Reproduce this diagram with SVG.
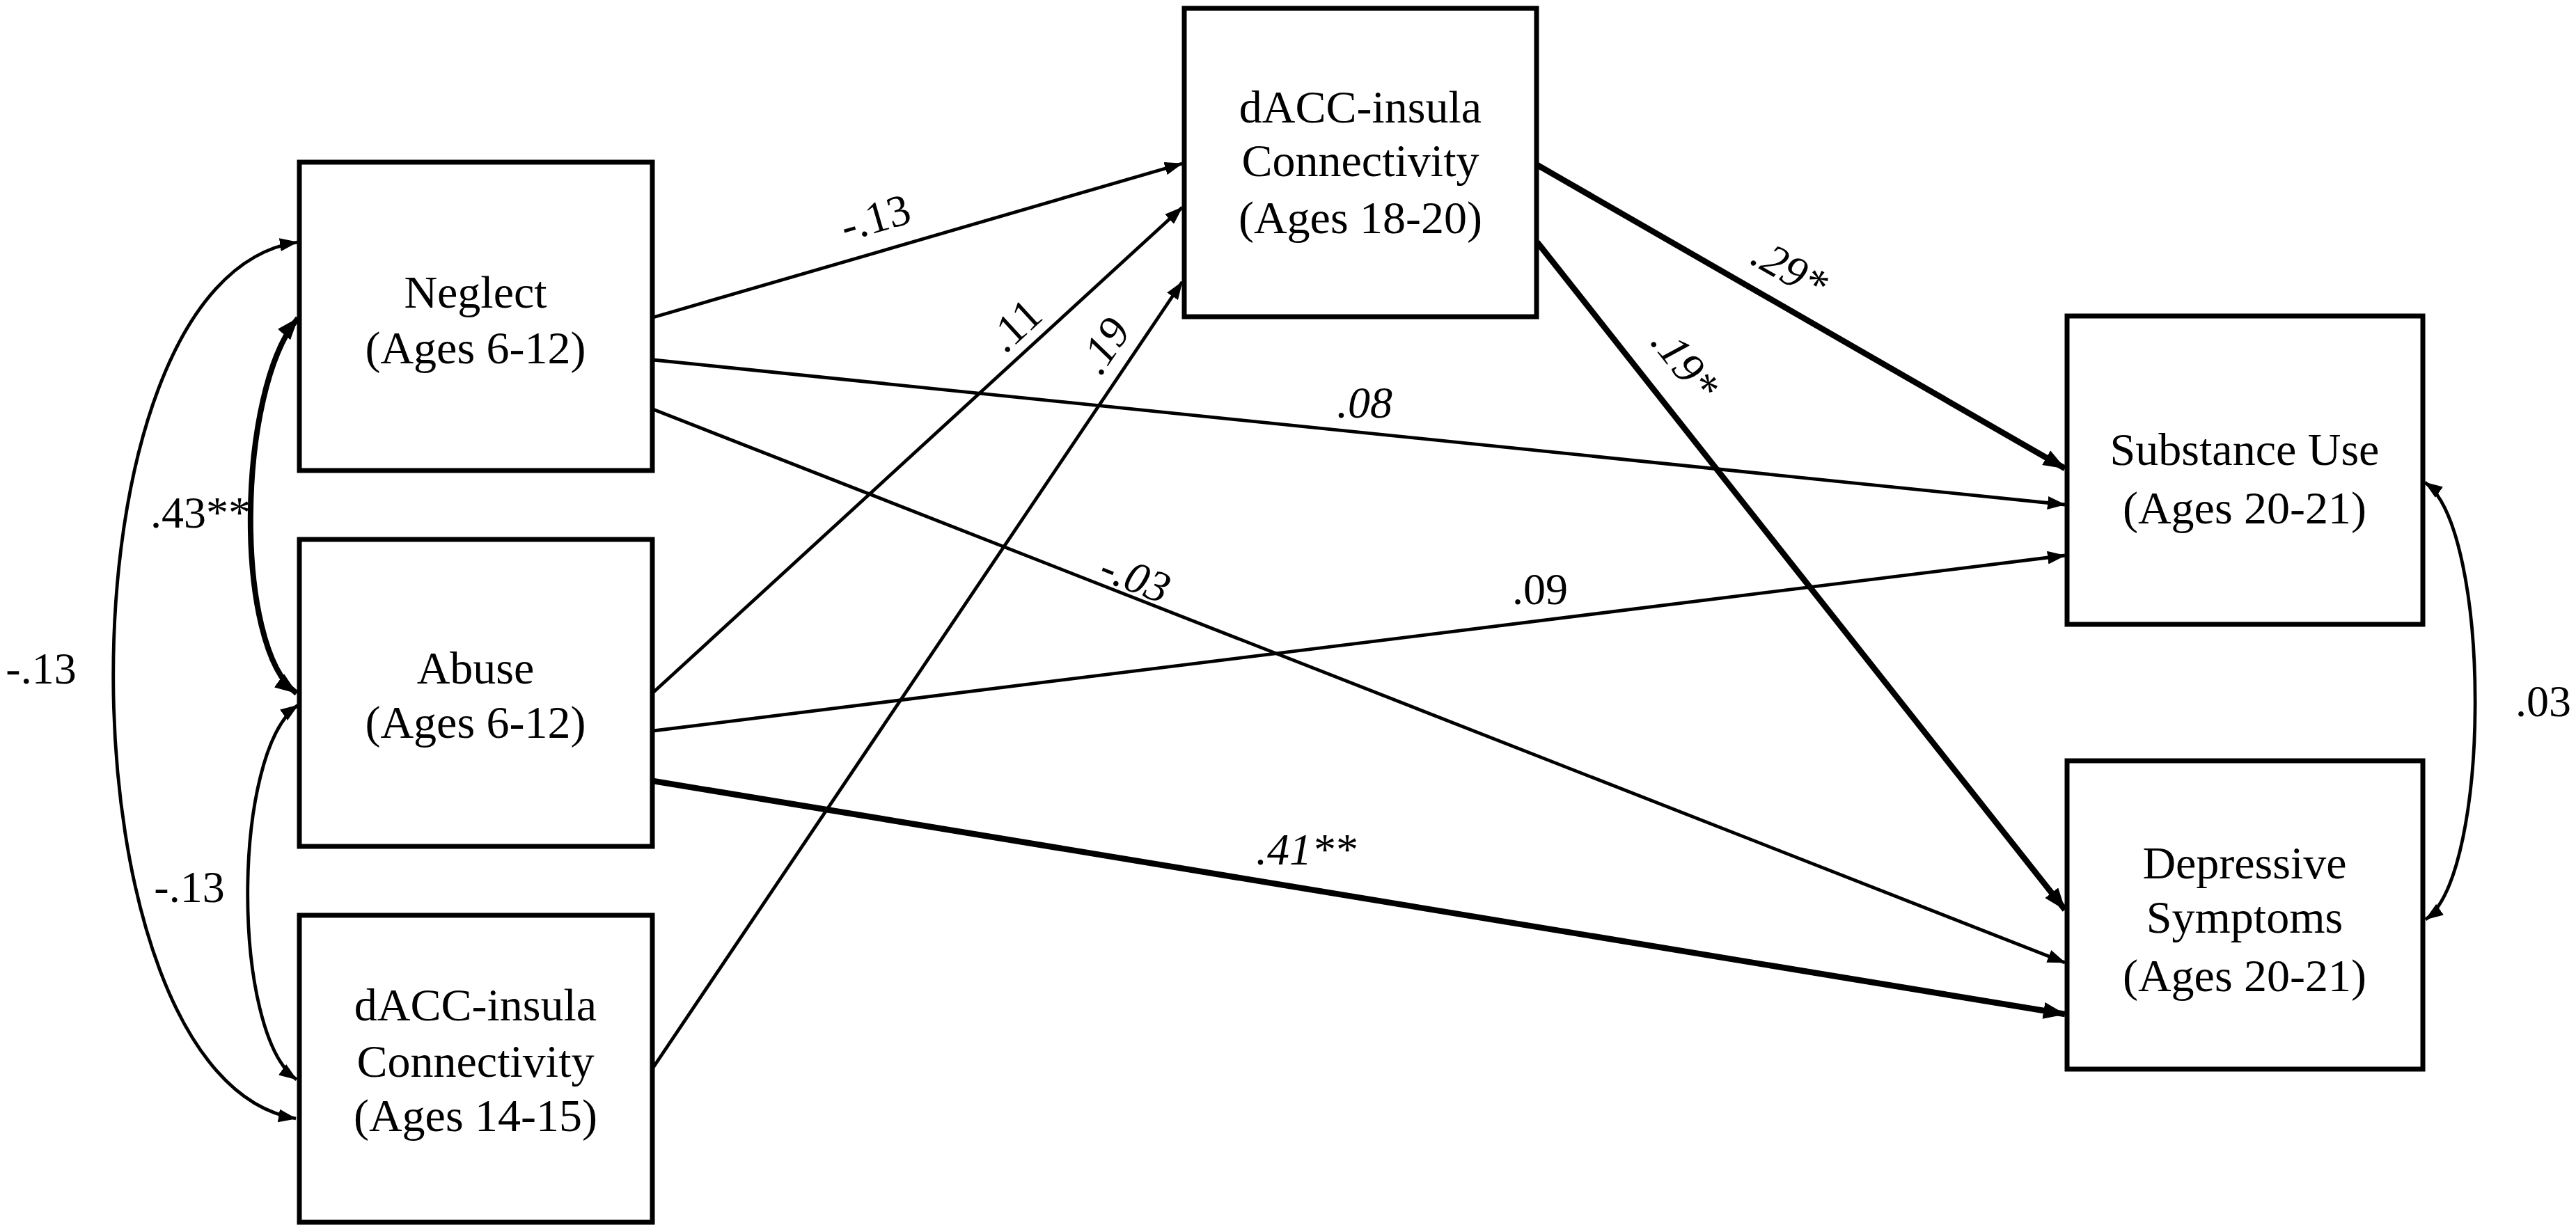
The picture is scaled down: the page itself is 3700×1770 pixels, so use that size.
<svg xmlns="http://www.w3.org/2000/svg" width="3700" height="1770" viewBox="0 0 3700 1770">
<style>
.box{fill:#fff;stroke:#000;stroke-width:7}
.nt{font-family:"Liberation Serif","Times New Roman",serif;font-size:66px;text-anchor:middle;fill:#000}
.lb{font-family:"Liberation Serif","Times New Roman",serif;font-size:64px;text-anchor:middle;fill:#000}
.it{font-style:italic}
.thin{fill:none;stroke:#000;stroke-width:4.8;marker-end:url(#ah)}
.thick{fill:none;stroke:#000;stroke-width:8.5;marker-end:url(#ahT)}
.cv{fill:none;stroke:#000;stroke-width:4.8;marker-start:url(#ahS);marker-end:url(#ah)}
.cvT{fill:none;stroke:#000;stroke-width:8;marker-start:url(#ahTS);marker-end:url(#ahT)}
</style>
<defs>
<marker id="ah" viewBox="0 0 26 19" markerWidth="26" markerHeight="19" refX="25" refY="9.5" orient="auto" markerUnits="userSpaceOnUse"><path d="M0,0 L26,9.5 L0,19 z"/></marker>
<marker id="ahS" viewBox="0 0 26 19" markerWidth="26" markerHeight="19" refX="25" refY="9.5" orient="auto-start-reverse" markerUnits="userSpaceOnUse"><path d="M0,0 L26,9.5 L0,19 z"/></marker>
<marker id="ahT" viewBox="0 0 32 24" markerWidth="32" markerHeight="24" refX="31" refY="12" orient="auto" markerUnits="userSpaceOnUse"><path d="M0,0 L32,12 L0,24 z"/></marker>
<marker id="ahTS" viewBox="0 0 32 24" markerWidth="32" markerHeight="24" refX="31" refY="12" orient="auto-start-reverse" markerUnits="userSpaceOnUse"><path d="M0,0 L32,12 L0,24 z"/></marker>
</defs>
<rect width="3700" height="1770" fill="#fff"/>

<g id="connectors">
<line class="thin" x1="938" y1="456" x2="1698" y2="235"/>
<line class="thin" x1="938" y1="995" x2="1698" y2="298"/>
<line class="thin" x1="938" y1="1534" x2="1698" y2="405"/>
<line class="thin" x1="938" y1="517" x2="2966" y2="725"/>
<line class="thin" x1="938" y1="1050" x2="2966" y2="798"/>
<line class="thin" x1="938" y1="588" x2="2966" y2="1383"/>
<line class="thick" x1="938" y1="1122" x2="2966" y2="1457"/>
<line class="thick" x1="2208" y1="237" x2="2966" y2="673"/>
<line class="thick" x1="2208" y1="348" x2="2966" y2="1307"/>
<path class="cv" d="M427,348 C70,400 80,1550 425,1607"/>
<path class="cvT" d="M428,457 C340,560 335,930 426,996"/>
<path class="cv" d="M428,1013 C332,1080 332,1485 426,1551"/>
<path class="cv" d="M3483,693 C3579,760 3579,1255 3484,1321"/>
</g>

<g id="labels">
<text class="lb" transform="translate(1257,312) rotate(-16.2)" y="22">-.13</text>
<text class="lb" transform="translate(1457,467) rotate(-42.6)" y="22">.11</text>
<text class="lb it" transform="translate(1585,496) rotate(-56)" y="22">.19</text>
<text class="lb it" transform="translate(1631,829) rotate(21.4)" y="22">-.03</text>
<text class="lb it" transform="translate(2571,386) rotate(29.8)" y="22">.29*</text>
<text class="lb it" transform="translate(2421,522) rotate(51.6)" y="22">.19*</text>
<text class="lb it" x="1960" y="600">.08</text>
<text class="lb" x="2212" y="868">.09</text>
<text class="lb it" x="1876" y="1242">.41**</text>
<text class="lb" x="288" y="758">.43**</text>
<text class="lb" x="59" y="982">-.13</text>
<text class="lb" x="272" y="1296">-.13</text>
<text class="lb" x="3653" y="1029">.03</text>
</g>

<g id="neglect">
<rect class="box" x="430" y="233" width="507" height="443"/>
<text class="nt" x="683" y="442">Neglect</text>
<text class="nt" x="683" y="522">(Ages 6-12)</text>
</g>
<g id="abuse">
<rect class="box" x="430" y="775" width="507" height="441"/>
<text class="nt" x="683" y="982">Abuse</text>
<text class="nt" x="683" y="1060">(Ages 6-12)</text>
</g>
<g id="dacc1415">
<rect class="box" x="430" y="1315" width="507" height="441"/>
<text class="nt" x="683" y="1466">dACC-insula</text>
<text class="nt" x="683" y="1547">Connectivity</text>
<text class="nt" x="683" y="1625">(Ages 14-15)</text>
</g>
<g id="dacc1820">
<rect class="box" x="1701" y="12" width="506" height="443"/>
<text class="nt" x="1954" y="176">dACC-insula</text>
<text class="nt" x="1954" y="253">Connectivity</text>
<text class="nt" x="1954" y="335">(Ages 18-20)</text>
</g>
<g id="substance">
<rect class="box" x="2969" y="454" width="511" height="443"/>
<text class="nt" x="3224" y="668">Substance Use</text>
<text class="nt" x="3224" y="752">(Ages 20-21)</text>
</g>
<g id="depressive">
<rect class="box" x="2969" y="1093" width="511" height="443"/>
<text class="nt" x="3224" y="1262">Depressive</text>
<text class="nt" x="3224" y="1340">Symptoms</text>
<text class="nt" x="3224" y="1424">(Ages 20-21)</text>
</g>
</svg>
